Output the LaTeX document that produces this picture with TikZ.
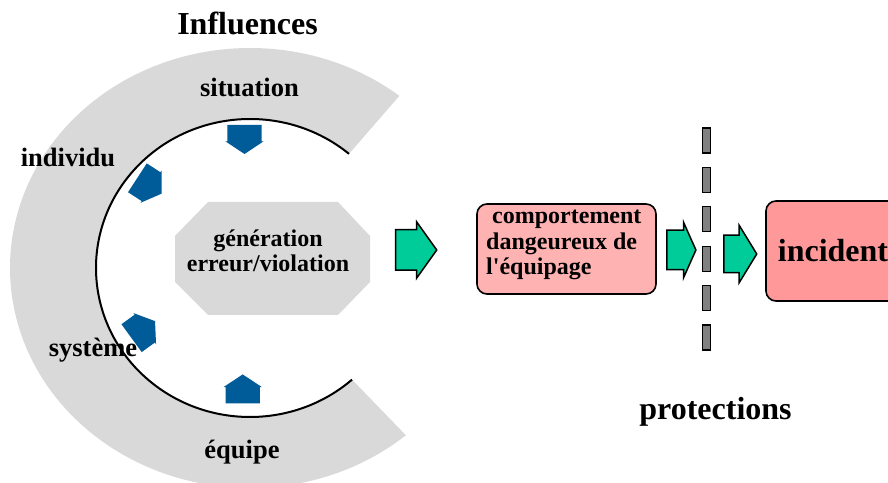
\documentclass[tikz,border=0pt]{standalone}
\usepackage{fontspec}
\setmainfont{Liberation Serif}
\usetikzlibrary{shapes.arrows}
\definecolor{cgray}{RGB}{217,217,217}
\definecolor{cblue}{RGB}{0,91,153}
\definecolor{cgreen}{RGB}{0,204,153}
\definecolor{cpink}{RGB}{255,178,178}
\definecolor{csalmon}{RGB}{255,153,153}
\definecolor{cbar}{RGB}{128,128,128}
\begin{document}
\begin{tikzpicture}[x=1pt,y=1pt,
  lbl/.style={font=\fontsize{26.5}{30}\selectfont\bfseries, inner sep=0pt, anchor=base},
  big/.style={font=\fontsize{32}{36}\selectfont\bfseries, inner sep=0pt, anchor=base},
  boxtxt/.style={font=\fontsize{24}{25.5}\selectfont\bfseries, inner sep=0pt},
  bluearr/.style={single arrow, fill=cblue, inner sep=0pt, text height=34pt, text depth=0pt,
    minimum height=29pt, minimum width=38pt, single arrow head extend=2pt,
    single arrow tip angle=113, rotate=#1},
  greenarr/.style={single arrow, fill=cgreen, draw=black, line width=1.5pt, inner sep=0pt, text depth=0pt},
  barbox/.style={rectangle, draw=black, line width=1.2pt, fill=cbar, minimum width=8pt, minimum height=25pt, inner sep=0pt},
  pinkbox/.style={rectangle, rounded corners=10pt, draw=black, line width=1.6pt, inner sep=0pt}
]
\useasboundingbox (0,0) rectangle (888,482);
% C-shaped influence ring
\fill[cgray] ([shift={(51.5:240pt and 220pt)}]250,214)
  arc[start angle=51.5, end angle=310.5, x radius=240pt, y radius=220pt]
  -- ([shift={(-48.5:154pt and 149pt)}]250,214)
  arc[start angle=-48.5, end angle=-310, x radius=154pt, y radius=149pt] -- cycle;
\draw[line width=2pt] ([shift={(50:154pt and 149pt)}]250,214)
  arc[start angle=50, end angle=311.5, x radius=154pt, y radius=149pt];
% octagon
\fill[cgray] (208,280) -- (338,280) -- (370,246) -- (370,200) -- (338,167) -- (208,167) -- (175,200) -- (175,246) -- cycle;
\node[boxtxt, align=center] (gen) at (268,231) {génération\\erreur/violation};
% labels
\node[big] (title) at (247.5,447) {Influences};
\node[lbl] (situation) at (249.5,385) {situation};
\node[lbl] (individu) at (68,315) {individu};
\node[lbl] (systeme) at (93,125) {système};
\node[lbl] (equipe) at (242,24) {équipe};
\node[big] (protections) at (715.5,63) {protections};
% blue arrows
\node[bluearr=-90] (a1) at (244.5,348.2) {};
\node[bluearr=90] (a2) at (242.7,87.4) {};
\node[bluearr=-33] (a3) at (144.8,299.4) {};
\node[bluearr=36] (a4) at (138.7,149) {};
% green arrows
\node[greenarr, text height=39pt, minimum height=41pt, minimum width=56pt,
  single arrow head extend=8pt, single arrow tip angle=109] (g1) at (409,232) {};
\node[greenarr, text height=38pt, minimum height=29pt, minimum width=55pt,
  single arrow head extend=8pt, single arrow tip angle=132] (g2) at (677,232) {};
\node[greenarr, text height=36pt, minimum height=33pt, minimum width=56pt,
  single arrow head extend=10pt, single arrow tip angle=117] (g3) at (734.5,228) {};
% boxes
\node[pinkbox, fill=cpink, minimum width=179pt, minimum height=90pt] (comp) at (566.5,233) {};
\node[boxtxt, align=left, anchor=west] (comptxt) at (486,237)
  {\hspace*{6pt}comportement\\dangeureux de\\l\textquotesingle équipage};
\node[pinkbox, fill=csalmon, minimum width=134pt, minimum height=100pt,
  font=\fontsize{32}{36}\selectfont\bfseries] (incident) at (833,231) {incident};
% protection barrier
\foreach \i in {0,...,5}
  \node[barbox] (bar\i) at (706.5,{341.5-39.4*\i}) {};
\end{tikzpicture}
\end{document}
